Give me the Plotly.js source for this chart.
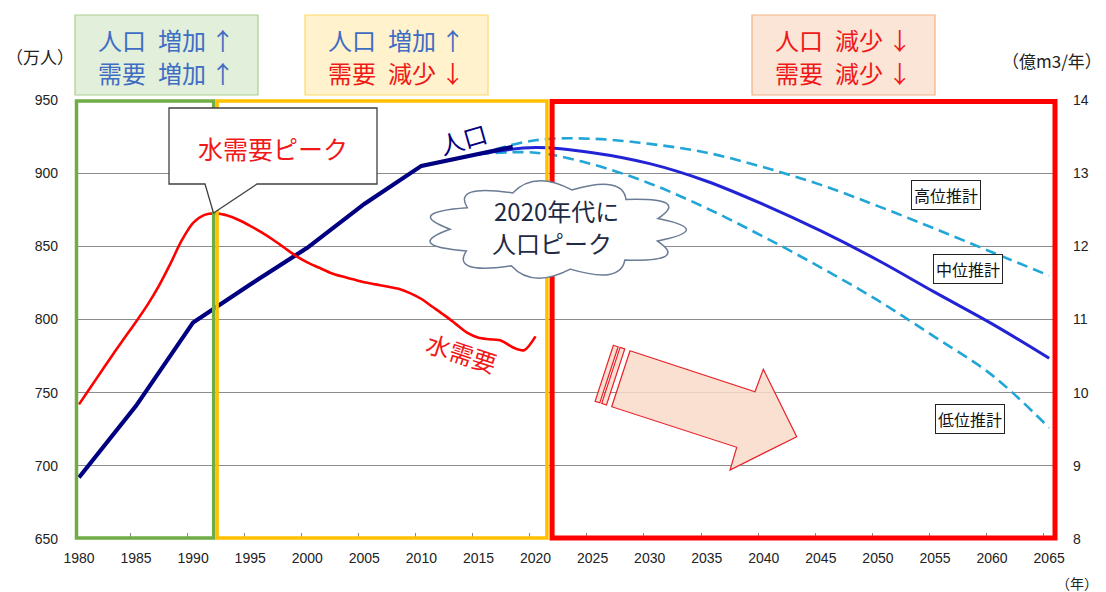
<!DOCTYPE html>
<html>
<head>
<meta charset="utf-8">
<script src="https://cdn.plot.ly/plotly-3.0.1.min.js"></script>
<style>html,body{margin:0;padding:0;background:#fff;}#chart{width:1106px;height:592px;}</style>
</head>
<body>
<div id="chart"></div>
<script>
// ---------------- data ----------------
const demandYears = [1980,1981,1982,1983,1984,1985,1986,1987,1988,1989,1990,1991,1992,1993,1994,1995,1996,1997,1998,1999,2000,2001,2002,2003,2004,2005,2006,2007,2008,2009,2010,2011,2012,2013,2014,2015,2016,2017,2018,2019,2020];
const waterDemand = [9.84,10.07,10.30,10.53,10.75,10.97,11.20,11.46,11.76,12.08,12.32,12.43,12.45,12.42,12.36,12.28,12.19,12.09,11.98,11.87,11.78,11.71,11.64,11.59,11.55,11.51,11.48,11.45,11.42,11.36,11.28,11.17,11.06,10.94,10.82,10.75,10.73,10.71,10.62,10.58,10.77];

const popYears = [1980,1985,1990,1995,2000,2005,2010,2015,2018];
const population = [692,741,798,824,849,879,905,913,918];

const projYears = [2015,2020,2025,2030,2035,2040,2045,2050,2055,2060,2065];
const projHigh = [913,922.5,923.5,920,914,904,892,877.5,862,846,830];
const projMid  = [913,917.5,914,906.5,894.5,878.5,860.5,840.5,818.5,797,773.5];
const projLow  = [913,914,906,893,876,856.5,835.5,813,788,762,726];

const xTicks = [1980,1985,1990,1995,2000,2005,2010,2015,2020,2025,2030,2035,2040,2045,2050,2055,2060,2065];
const xMinorTicks = [1984.5,1989.5,1994.5,1999.5,2004.5,2009.5,2014.5,2019.5,2024.5,2029.5,2034.5,2039.5,2044.5,2049.5,2054.5,2059.5,2064.5];
const leftTicks = [650,700,750,800,850,900,950];
const rightTicks = [8,9,10,11,12,13,14];

const periodBounds = [1991.8, 1992.1, 2021.0, 2021.45];

// ---------------- geometry helpers ----------------
const W = 1106, H = 592;
const M = {l:75, r:50, t:100, b:53};
const PL = M.l, PR = W - M.r, PT = M.t, PB = H - M.b;
const XR = [1979.65, 2065.6];
const YR = [650, 950];
const px = x => (x - PL) / (PR - PL);      // pixel -> paper
const py = y => (PB - y) / (PB - PT);
const yearPx = yr => PL + (yr - XR[0]) / (XR[1] - XR[0]) * (PR - PL);
const pathPx = pts => 'M' + pts.map(p => px(p[0]).toFixed(5) + ',' + py(p[1]).toFixed(5)).join(' L') + ' Z';

const CJK = '"Noto Sans CJK JP", "Noto Sans", sans-serif';
const NUM = '"Liberation Sans Narrow", "Liberation Sans", Arial, sans-serif';
const BLUE_T = '#3F6DC4', RED_T = '#F01818';

// ---------------- traces ----------------
const traces = [
  {x: projYears, y: projHigh, mode:'lines', line:{color:'#22A6D8', width:2.6, dash:'11px,6px', shape:'spline', smoothing:1}, hoverinfo:'skip'},
  {x: projYears, y: projLow,  mode:'lines', line:{color:'#22A6D8', width:2.6, dash:'11px,6px', shape:'spline', smoothing:1}, hoverinfo:'skip'},
  {x: projYears, y: projMid,  mode:'lines', line:{color:'#2323D6', width:3, shape:'spline', smoothing:1}, hoverinfo:'skip'},
  {x: popYears, y: population, mode:'lines', line:{color:'#000080', width:4.2}, hoverinfo:'skip'},
  {x: demandYears, y: waterDemand, yaxis:'y2', mode:'lines', line:{color:'#FF0000', width:2.6, shape:'spline', smoothing:0.8}, hoverinfo:'skip'}
];

// ---------------- shapes ----------------
const shapes = [];
const yTopPx = PT + 1, yBotPx = PB - 1;
shapes.push({type:'rect', xref:'paper', yref:'paper', x0:px(PL+1.5), x1:px(yearPx(periodBounds[0])), y0:py(yBotPx), y1:py(yTopPx), line:{color:'#70AD47', width:3.5}, layer:'above'});
shapes.push({type:'rect', xref:'paper', yref:'paper', x0:px(yearPx(periodBounds[1])), x1:px(yearPx(periodBounds[2])), y0:py(yBotPx), y1:py(yTopPx), line:{color:'#FFC000', width:3.5}, layer:'above'});
shapes.push({type:'rect', xref:'paper', yref:'paper', x0:px(yearPx(periodBounds[3])), x1:px(PR-1), y0:py(yBotPx), y1:py(yTopPx+0.5), line:{color:'#FF0000', width:5}, layer:'above'});

const SP = '\u2002', TH = '\u2009';
const headers = [
  {x0:75, x1:258, fill:'#E2EFDA', line:'#A9D08E', l1:[BLUE_T,'人口'+SP+'増加'+TH+'↑'], l2:[BLUE_T,'需要'+SP+'増加'+TH+'↑']},
  {x0:305, x1:488, fill:'#FFF2CC', line:'#FFD966', l1:[BLUE_T,'人口'+SP+'増加'+TH+'↑'], l2:[RED_T,'需要'+SP+'減少'+TH+'↓']},
  {x0:752, x1:935, fill:'#FBE5D6', line:'#F4B183', l1:[RED_T,'人口'+SP+'減少'+TH+'↓'], l2:[RED_T,'需要'+SP+'減少'+TH+'↓']}
];
headers.forEach(h => shapes.push({type:'rect', xref:'paper', yref:'paper', x0:px(h.x0), x1:px(h.x1), y0:py(95), y1:py(15), fillcolor:h.fill, line:{color:h.line, width:1.2}}));

shapes.push({type:'path', xref:'paper', yref:'paper', layer:'above',
  path: pathPx([[169,108],[377,108],[377,184],[257,184],[213.5,213],[205,184],[169,184]]),
  fillcolor:'#FFFFFF', line:{color:'#404040', width:1.3}});

(function(){
  const cx = 556, cy = 229.5, rx = 106, ry = 40, n = 11, k = 1.5;
  const pts = [];
  for (let i = 0; i < n; i++) {
    const a = -Math.PI/2 + i * 2*Math.PI/n + 0.15;
    pts.push([cx + rx*Math.cos(a), cy + ry*Math.sin(a)]);
  }
  let d = 'M' + px(pts[0][0]).toFixed(5) + ',' + py(pts[0][1]).toFixed(5);
  for (let i = 0; i < n; i++) {
    const a = -Math.PI/2 + (i + 0.5) * 2*Math.PI/n + 0.15;
    const c = [cx + k*rx*Math.cos(a), cy + k*ry*Math.sin(a)];
    const p = pts[(i+1) % n];
    d += ' Q' + px(c[0]).toFixed(5) + ',' + py(c[1]).toFixed(5) + ' ' + px(p[0]).toFixed(5) + ',' + py(p[1]).toFixed(5);
  }
  d += ' Z';
  shapes.push({type:'path', xref:'paper', yref:'paper', layer:'above', path:d, fillcolor:'#FFFFFF', line:{color:'#6A7B95', width:1.5}});
})();

const arrowFill = 'rgba(249,218,200,0.85)', arrowLine = '#E8202A';
shapes.push({type:'path', xref:'paper', yref:'paper', layer:'above',
  path: pathPx([[630,350.7],[755,391.7],[763.3,369.3],[796.7,436.7],[730,470],[736.7,447.3],[611.7,406.7]]),
  fillcolor:arrowFill, line:{color:arrowLine, width:1.2}});
(function(){
  const dir = [0.950, 0.312];
  const top = [630,350.7], bot = [611.7,406.7];
  [[-10.5,-5.5],[-17.5,-12.5]].forEach(([a,b]) => {
    const pts = [
      [top[0]+dir[0]*a, top[1]+dir[1]*a],[top[0]+dir[0]*b, top[1]+dir[1]*b],
      [bot[0]+dir[0]*b, bot[1]+dir[1]*b],[bot[0]+dir[0]*a, bot[1]+dir[1]*a]];
    shapes.push({type:'path', xref:'paper', yref:'paper', layer:'above', path:pathPx(pts), fillcolor:arrowFill, line:{color:arrowLine, width:1.2}});
  });
})();

// ---------------- annotations ----------------
const ann = [];
headers.forEach(h => {
  const c = (h.x0 + h.x1) / 2;
  ann.push({xref:'paper', yref:'paper', x:px(c), y:py(39.5), xanchor:'center', yanchor:'middle', showarrow:false, text:h.l1[1], font:{family:CJK, size:24, color:h.l1[0]}});
  ann.push({xref:'paper', yref:'paper', x:px(c), y:py(72.5), xanchor:'center', yanchor:'middle', showarrow:false, text:h.l2[1], font:{family:CJK, size:24, color:h.l2[0]}});
});
ann.push({xref:'paper', yref:'paper', x:px(40), y:py(57), xanchor:'center', yanchor:'middle', showarrow:false, text:'（万人）', font:{family:CJK, size:17, color:'#222'}});
ann.push({xref:'paper', yref:'paper', x:px(1052), y:py(60), xanchor:'center', yanchor:'middle', showarrow:false, text:'（億m3/年）', font:{family:CJK, size:17, color:'#222'}});
ann.push({xref:'paper', yref:'paper', x:px(1100), y:py(583), xanchor:'right', yanchor:'middle', showarrow:false, text:'（年）', font:{family:CJK, size:14, color:'#222'}});
ann.push({xref:'paper', yref:'paper', x:px(273), y:py(148), xanchor:'center', yanchor:'middle', showarrow:false, text:'水需要ピーク', font:{family:CJK, size:25, color:'#F01818'}});
ann.push({xref:'paper', yref:'paper', x:px(556), y:py(210), xanchor:'center', yanchor:'middle', showarrow:false, text:'2020年代に', font:{family:CJK, size:24, color:'#1F2A44'}});
ann.push({xref:'paper', yref:'paper', x:px(552), y:py(242), xanchor:'center', yanchor:'middle', showarrow:false, text:'人口ピーク', font:{family:CJK, size:24, color:'#1F2A44'}});
ann.push({xref:'paper', yref:'paper', x:px(463), y:py(138), xanchor:'center', yanchor:'middle', showarrow:false, textangle:-16, text:'人口', font:{family:CJK, size:24, color:'#000080'}});
ann.push({xref:'paper', yref:'paper', x:px(462), y:py(352), xanchor:'center', yanchor:'middle', showarrow:false, textangle:18, text:'水需要', font:{family:CJK, size:24, color:'#F01818'}});
[['高位推計',946,195],['中位推計',967.5,269],['低位推計',969.5,419]].forEach(([t,x,y]) => {
  ann.push({xref:'paper', yref:'paper', x:px(x), y:py(y), xanchor:'center', yanchor:'middle', showarrow:false, text:t, font:{family:CJK, size:16, color:'#111'}, bgcolor:'#FFFFFF', bordercolor:'#222', borderwidth:1, borderpad:2});
});

// ---------------- layout ----------------
const layout = {
  width:W, height:H, autosize:false,
  margin:{l:M.l, r:M.r, t:M.t, b:M.b, pad:0},
  paper_bgcolor:'#FFFFFF', plot_bgcolor:'#FFFFFF',
  showlegend:false,
  xaxis:{range:XR, tickmode:'array', tickvals:xTicks, ticktext:xTicks.map(String), ticks:'', showgrid:false, zeroline:false, showline:false,
    tickfont:{family:NUM, size:14, color:'#222'}, ticklabelstandoff:9,
    minor:{tickmode:'array', tickvals:xMinorTicks, ticks:'inside', ticklen:6, tickcolor:'#888', tickwidth:1, showgrid:false}},
  yaxis:{range:YR, tickmode:'array', tickvals:leftTicks, ticktext:leftTicks.map(String), ticks:'', showgrid:true, gridcolor:'#8C8C8C', gridwidth:1, zeroline:false, showline:false,
    tickfont:{family:NUM, size:14, color:'#222'}, ticklabelstandoff:16},
  yaxis2:{range:[8,14], overlaying:'y', side:'right', tickmode:'array', tickvals:rightTicks, ticktext:rightTicks.map(String), ticks:'', showgrid:false, zeroline:false, showline:false,
    tickfont:{family:NUM, size:14, color:'#222'}, ticklabelstandoff:16},
  shapes:shapes,
  annotations:ann
};

Plotly.newPlot('chart', traces, layout, {staticPlot:true, displayModeBar:false});
</script>
</body>
</html>
